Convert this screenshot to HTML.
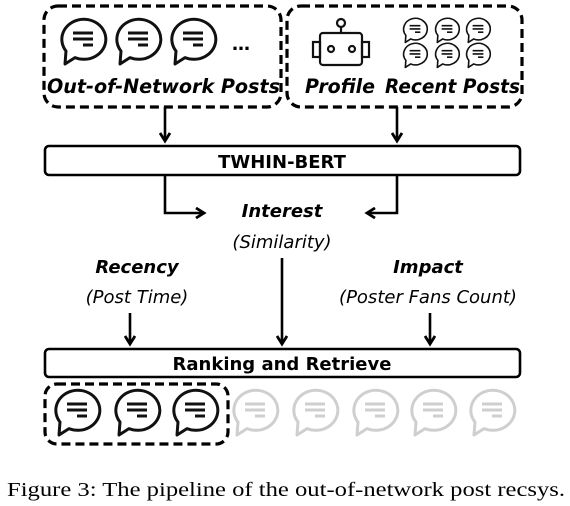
<!DOCTYPE html>
<html><head><style>
html,body{margin:0;padding:0;background:#fff;}
svg{display:block;}
.t{font-family:"DejaVu Sans","Liberation Sans",sans-serif;}
.cap{font-family:"Liberation Serif",serif;}
</style></head><body>
<svg width="570" height="506" viewBox="0 0 570 506" xmlns="http://www.w3.org/2000/svg">
<defs>
<symbol id="b" viewBox="-26 -24 52 52" overflow="visible">
<path d="M -17 12 A 22 20 0 1 1 -8 18.6 L -18 25 Z" fill="#fff" stroke="currentColor" stroke-width="3" stroke-linejoin="round"/>
<path d="M -10 -6 H 10 M -10 0 H 10 M 0 6 H 10" stroke="currentColor" stroke-width="3"/>
</symbol>
<marker id="a" markerWidth="12" markerHeight="12" refX="8" refY="6" orient="auto" markerUnits="userSpaceOnUse" viewBox="0 0 12 12">
<path d="M1 1 L9 6 L1 11" fill="none" stroke="#000" stroke-width="2.8"/>
</marker>
</defs>
<g fill="none" stroke="#000" stroke-width="3.2" stroke-dasharray="9 5">
<rect x="44" y="6" width="237" height="101" rx="14"/>
<rect x="287" y="6" width="235" height="101" rx="14"/>
<rect x="45" y="384" width="183" height="60" rx="12"/>
</g>
<g color="#111">
<use href="#b" x="57" y="15" width="52" height="52"/>
<use href="#b" x="112" y="15" width="52" height="52"/>
<use href="#b" x="167" y="15" width="52" height="52"/>
</g>
<text x="232" y="50" class="t" font-size="18" font-weight="bold">…</text>
<g stroke="#111" stroke-width="2.2" fill="none">
<rect x="320" y="33" width="42" height="32" rx="3"/>
<rect x="313" y="42" width="7" height="15"/>
<rect x="362" y="42" width="7" height="15"/>
<circle cx="341" cy="23" r="4"/>
<path d="M341 27 V33"/>
<circle cx="331" cy="49" r="3"/>
<circle cx="352" cy="49" r="3"/>
</g>
<g color="#111">
<use href="#b" x="401" y="16" width="28" height="28"/>
<use href="#b" x="433" y="16" width="28" height="28"/>
<use href="#b" x="464" y="16" width="28" height="28"/>
<use href="#b" x="401" y="41" width="28" height="28"/>
<use href="#b" x="433" y="41" width="28" height="28"/>
<use href="#b" x="464" y="41" width="28" height="28"/>
</g>
<g class="t" font-style="italic" font-weight="bold" font-size="19.5" fill="#000">
<text x="47" y="93" textLength="233" lengthAdjust="spacingAndGlyphs">Out-of-Network Posts</text>
<text x="305" y="93" textLength="70" lengthAdjust="spacingAndGlyphs">Profile</text>
<text x="385" y="93" textLength="135" lengthAdjust="spacingAndGlyphs">Recent Posts</text>
</g>
<g stroke="#000" stroke-width="2.6" fill="none">
<path d="M165 107 V140" marker-end="url(#a)"/>
<path d="M397 107 V140" marker-end="url(#a)"/>
<rect x="45" y="146" width="475" height="29" rx="4"/>
<path d="M165 176 V213 H203" marker-end="url(#a)"/>
<path d="M397 176 V213 H368" marker-end="url(#a)"/>
<path d="M130 313 V343" marker-end="url(#a)"/>
<path d="M282 258 V343" marker-end="url(#a)"/>
<path d="M430 313 V343" marker-end="url(#a)"/>
<rect x="45" y="349" width="475" height="28" rx="4"/>
</g>
<g class="t" font-weight="bold" font-size="18" text-anchor="middle">
<text x="282" y="168">TWHIN-BERT</text>
<text x="282" y="370">Ranking and Retrieve</text>
</g>
<g class="t" font-style="italic" font-size="18" text-anchor="middle">
<text x="282" y="217" font-weight="bold">Interest</text>
<text x="282" y="248">(Similarity)</text>
<text x="137" y="273" font-weight="bold">Recency</text>
<text x="137" y="303">(Post Time)</text>
<text x="428" y="273" font-weight="bold">Impact</text>
<text x="428" y="303">(Poster Fans Count)</text>
</g>
<g color="#111">
<use href="#b" x="51" y="386" width="52" height="52"/>
<use href="#b" x="111" y="386" width="52" height="52"/>
<use href="#b" x="169" y="386" width="52" height="52"/>
</g>
<g color="#cfcfcf">
<use href="#b" x="229" y="386" width="52" height="52"/>
<use href="#b" x="289" y="386" width="52" height="52"/>
<use href="#b" x="349" y="386" width="52" height="52"/>
<use href="#b" x="407" y="386" width="52" height="52"/>
<use href="#b" x="466" y="386" width="52" height="52"/>
</g>
<text x="7" y="496" class="cap" style="font-family:'Liberation Serif',serif" font-size="19.5" textLength="558" lengthAdjust="spacingAndGlyphs">Figure 3: The pipeline of the out-of-network post recsys.</text>
</svg>
</body></html>
